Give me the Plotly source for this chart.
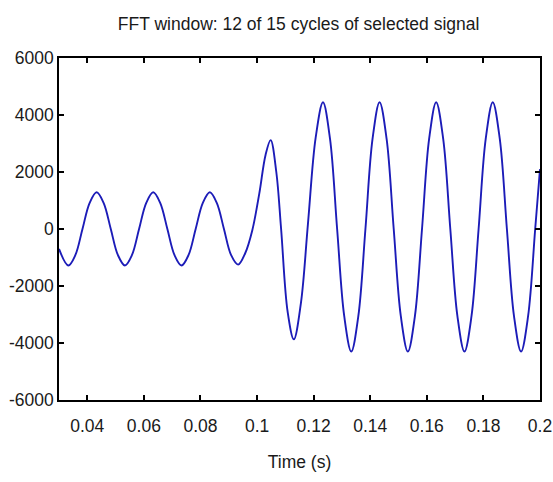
import plotly.graph_objects as go

# Signal samples (time in s, amplitude)
time_s = [
    0.0300, 0.0333, 0.0358, 0.0383, 0.0408, 0.0433, 0.0458, 0.0483, 0.0508,
    0.0533, 0.0558, 0.0583, 0.0608, 0.0633, 0.0658, 0.0683, 0.0708,
    0.0733, 0.0758, 0.0783, 0.0808, 0.0833, 0.0858, 0.0883, 0.0908,
    0.0933, 0.0958, 0.0983, 0.1008, 0.1030, 0.1048, 0.1068, 0.1085, 0.1108,
    0.1130, 0.1155, 0.1180, 0.1207, 0.1233, 0.1258, 0.1283, 0.1308,
    0.1333, 0.1358, 0.1383, 0.1408, 0.1433, 0.1458, 0.1483, 0.1508,
    0.1533, 0.1558, 0.1583, 0.1608, 0.1633, 0.1658, 0.1683, 0.1708,
    0.1733, 0.1758, 0.1783, 0.1808, 0.1833, 0.1858, 0.1883, 0.1908,
    0.1933, 0.1958, 0.1983, 0.2000,
]
signal = [
    -700, -1280, -910, 0, 910, 1290, 910, 0, -910,
    -1280, -910, 0, 910, 1290, 910, 0, -910,
    -1280, -910, 0, 910, 1290, 910, 0, -910,
    -1250, -850, -50, 1250, 2600, 3120, 2000, 0, -2900,
    -3870, -2600, 200, 3200, 4450, 3150, 0, -3050,
    -4300, -3050, 0, 3150, 4450, 3150, 0, -3050,
    -4300, -3050, 0, 3150, 4450, 3150, 0, -3050,
    -4300, -3050, 0, 3150, 4450, 3150, 0, -3050,
    -4300, -3050, 0, 2100,
]

x_tick_vals = [0.04, 0.06, 0.08, 0.10, 0.12, 0.14, 0.16, 0.18, 0.20]
x_tick_text = ["0.04", "0.06", "0.08", "0.1", "0.12", "0.14", "0.16", "0.18", "0.2"]
y_tick_vals = [-6000, -4000, -2000, 0, 2000, 4000, 6000]
y_tick_text = ["-6000", "-4000", "-2000", "0", "2000", "4000", "6000"]

title_text = "FFT window: 12 of 15 cycles of selected signal"
x_title = "Time (s)"

FONT = "Liberation Sans, Arial, sans-serif"
TXT = "#1a1a1a"

fig = go.Figure()
fig.add_trace(go.Scatter(
    x=time_s, y=signal, mode="lines",
    line=dict(color="#1c1cb8", width=1.9, shape="spline", smoothing=1.0),
    showlegend=False, hoverinfo="skip",
))

axis_common = dict(
    showgrid=False, zeroline=False, showline=True, linecolor="black",
    linewidth=1.5, mirror="ticks", ticks="inside", ticklen=5,
    tickwidth=1.5, tickcolor="black", automargin=False,
    ticklabeloverflow="allow",
    tickfont=dict(family=FONT, size=17.5, color=TXT),
)

fig.update_layout(
    width=553, height=482,
    margin=dict(l=59, r=13, t=58, b=82),
    paper_bgcolor="white", plot_bgcolor="white",
    title=dict(text=title_text, x=0.540, xanchor="center", y=0.950, yanchor="middle",
               font=dict(family=FONT, size=17.5, color=TXT)),
    xaxis=dict(range=[0.03, 0.2], tickvals=x_tick_vals, ticktext=x_tick_text,
               ticklabelstandoff=9,
               title=dict(text=x_title, font=dict(family=FONT, size=17.5, color=TXT), standoff=21),
               **axis_common),
    yaxis=dict(range=[-6000, 6000], tickvals=y_tick_vals, ticktext=y_tick_text,
               **axis_common),
)

# remove the default page margin so the figure fills the 553x482 window exactly
fig.write_html(
    "out.html",
    config={"displayModeBar": False},
    post_script="document.body.style.margin='0';document.body.style.overflow='hidden';",
)
